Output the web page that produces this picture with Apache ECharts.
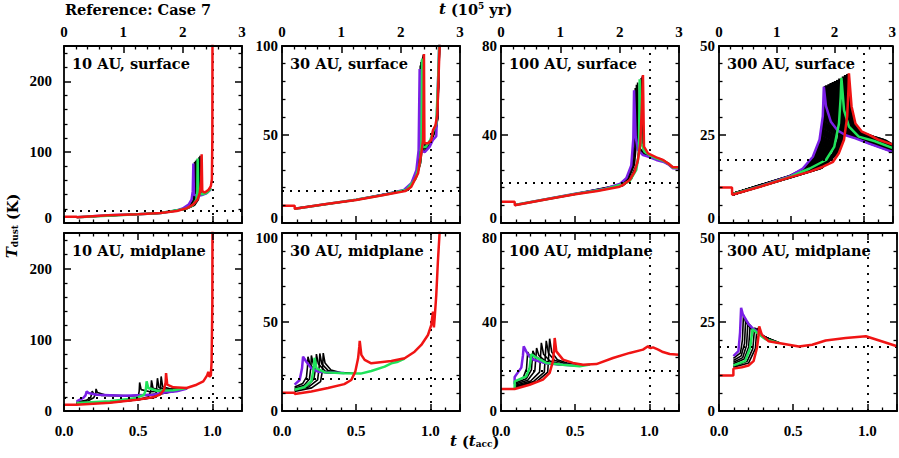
<!DOCTYPE html>
<html>
<head>
<meta charset="utf-8">
<script src="https://cdn.jsdelivr.net/npm/echarts@6/dist/echarts.min.js"></script>
<style>
  body { margin: 0; background: #fff; }
  #main { width: 899px; height: 458px; }
</style>
</head>
<body>
<div id="main"></div>
<script>
// t in units of t_acc (1 t_acc = 2.5e5 yr), T_dust in K

// ---- 10 AU, surface
var surf10Red = [[0,9],[0.085,9],[0.086,8],[0.3,10.8],[0.5,12.3],[0.65,14],[0.76,17],[0.83,21],[0.87,26],[0.9,33],[0.915,42],[0.925,60],[0.928,97],[0.932,45],[0.95,43],[0.975,47],[0.99,52],[0.997,62],[1.0,120],[1.001,260]];
var surf10Purple = [[0.086,8.2],[0.3,10.9],[0.5,12.5],[0.65,14.2],[0.76,17.8],[0.8,20.5],[0.84,26],[0.86,33],[0.868,45],[0.872,84],[0.876,40],[0.9,38],[0.93,39.5],[0.96,42],[0.99,47.5]];
var surf10Green = [[0.086,8.1],[0.5,12.4],[0.65,14.1],[0.815,19.7],[0.868,25],[0.892,33],[0.899,45],[0.901,91],[0.905,42],[0.935,40.5],[0.965,43],[0.99,48.5]];
var surf10Black = [
  [[0.086,8.1],[0.65,14.1],[0.8,19.8],[0.85,25],[0.872,33],[0.878,45],[0.88,86],[0.884,41],[0.91,39],[0.95,41.5],[0.99,48]],
  [[0.086,8.1],[0.65,14.1],[0.8,19.6],[0.855,25],[0.878,33],[0.885,45],[0.887,88],[0.891,41],[0.92,39.5],[0.96,42],[0.99,48]],
  [[0.086,8.1],[0.65,14],[0.81,19.8],[0.86,25],[0.885,33],[0.892,45],[0.894,89.5],[0.898,41.5],[0.93,40],[0.97,43.5],[0.99,48.5]],
  [[0.086,8.1],[0.65,14],[0.82,19.7],[0.875,25],[0.9,33],[0.908,45],[0.91,93],[0.914,42],[0.94,41],[0.97,44],[0.99,49]],
  [[0.086,8.1],[0.65,14],[0.825,19.6],[0.88,25],[0.906,33],[0.915,45],[0.917,95],[0.921,42.5],[0.945,41.5],[0.975,45],[0.99,49.5]]
];

// ---- 30 AU, surface
var surf30Red = [[0,9.8],[0.085,9.8],[0.086,8],[0.3,10.7],[0.5,13],[0.65,15.2],[0.75,16.8],[0.83,18],[0.87,20.3],[0.917,28],[0.939,39.5],[0.951,47],[0.955,70],[0.957,95.5],[0.96,45],[0.984,45],[1.007,47],[1.018,52.5],[1.034,55],[1.047,61],[1.056,84],[1.063,101]];
var surf30Purple = [[0.086,8.1],[0.5,13.2],[0.7,16.3],[0.82,18.6],[0.872,22.5],[0.906,29.9],[0.921,41.2],[0.928,87],[0.935,41],[0.962,40],[0.995,43],[1.018,47],[1.04,49],[1.05,75],[1.06,101]];
var surf30Green = [[0.086,8.1],[0.5,13.1],[0.7,16.1],[0.84,18.8],[0.9,25],[0.93,34],[0.94,45],[0.945,93],[0.948,43],[0.97,43],[1.0,47],[1.02,52],[1.04,56],[1.052,80],[1.06,101]];
var surf30Black = [
  [[0.086,8.1],[0.5,13.1],[0.83,18.6],[0.88,23],[0.912,30],[0.926,41],[0.932,89],[0.938,41.5],[0.965,41],[0.995,44.5],[1.02,49],[1.045,55],[1.055,80],[1.062,101]],
  [[0.086,8.1],[0.5,13.1],[0.835,18.6],[0.885,23.5],[0.917,30.5],[0.931,41],[0.937,91],[0.942,42],[0.968,42],[0.998,45],[1.022,50],[1.046,56],[1.056,82],[1.062,101]],
  [[0.086,8.1],[0.5,13],[0.84,18.7],[0.89,24],[0.921,31],[0.935,41.5],[0.941,92],[0.946,42.5],[0.97,42.5],[1.0,46],[1.025,51],[1.047,57],[1.057,83],[1.062,101]],
  [[0.086,8.1],[0.5,13],[0.845,18.6],[0.9,25],[0.93,33],[0.943,43],[0.949,94],[0.953,43.5],[0.975,44],[1.003,46.5],[1.028,52],[1.048,58],[1.057,84],[1.063,101]],
  [[0.086,8.1],[0.5,13],[0.85,18.5],[0.905,25.5],[0.935,34],[0.947,44],[0.952,95],[0.956,44],[0.98,44.5],[1.005,47],[1.03,53],[1.05,59],[1.058,85],[1.063,101]]
];

// ---- 100 AU, surface
var surf100Red = [[0,9.6],[0.092,9.6],[0.093,8],[0.3,10.6],[0.5,13],[0.65,14.5],[0.8,16.4],[0.822,17.2],[0.867,19.4],[0.901,23.2],[0.923,28.4],[0.939,36],[0.95,52.6],[0.957,66.9],[0.964,34.5],[0.991,31.5],[1.047,29.7],[1.092,28.5],[1.126,27],[1.159,25.2],[1.2,25.2]];
var surf100Purple = [[0.093,8.1],[0.5,13.2],[0.7,15.5],[0.8,17.6],[0.845,20.3],[0.878,26],[0.892,38],[0.897,60],[0.908,39],[0.923,33],[0.957,30.7],[0.991,30],[1.047,28.5],[1.092,27.7],[1.126,26.6],[1.159,24.7],[1.2,24.6]];
var surf100Green = [[0.093,8.1],[0.5,13.1],[0.7,15.3],[0.82,17.5],[0.867,18.9],[0.912,24],[0.93,31.5],[0.935,65],[0.946,36],[0.968,32.2],[1.0,30.7],[1.047,29.2],[1.092,28.2],[1.126,27],[1.159,25],[1.2,25]];
var surf100Black = [
  [[0.093,8.1],[0.5,13.2],[0.8,17.3],[0.85,20.5],[0.885,26],[0.9,38],[0.905,61],[0.913,38.5],[0.93,33],[0.96,31],[1.0,30.2],[1.05,28.8],[1.1,27.7],[1.16,24.9],[1.2,24.8]],
  [[0.093,8.1],[0.5,13.2],[0.8,17.1],[0.855,20.5],[0.893,26.5],[0.908,38],[0.913,62.5],[0.92,38],[0.935,33],[0.965,31],[1.0,30.3],[1.05,28.9],[1.1,27.8],[1.16,24.9],[1.2,24.8]],
  [[0.093,8.1],[0.5,13.1],[0.81,17.2],[0.86,20],[0.9,26.5],[0.915,38],[0.921,63.5],[0.928,37.5],[0.94,33.5],[0.97,31],[1.0,30.4],[1.05,29],[1.1,27.9],[1.16,25],[1.2,24.9]],
  [[0.093,8.1],[0.5,13],[0.82,17],[0.875,20.5],[0.918,27],[0.936,37],[0.945,65.5],[0.952,36],[0.96,33],[0.98,31.5],[1.01,30.5],[1.05,29.3],[1.1,28],[1.16,25.1],[1.2,25]],
  [[0.093,8.1],[0.5,13],[0.82,16.8],[0.88,20],[0.92,27],[0.94,37],[0.951,66.2],[0.958,35],[0.965,33],[0.985,31.5],[1.02,30.2],[1.06,29.3],[1.1,28.2],[1.16,25.1],[1.2,25.1]]
];

// ---- 300 AU, surface
var surf300Red = [[0,10],[0.09,10],[0.091,8],[0.29,10.3],[0.49,12.9],[0.63,14.5],[0.72,15.9],[0.79,17.3],[0.83,19.7],[0.866,23.5],[0.888,30.2],[0.897,38],[0.9,42.3],[0.918,33],[0.945,28.1],[0.99,25.8],[1.04,24.9],[1.1,23.6],[1.2,22.2]];
var surf300Purple = [[0.091,8.1],[0.29,10.5],[0.49,13.2],[0.58,15.4],[0.65,18.7],[0.696,23.5],[0.719,30.2],[0.726,38.5],[0.741,33],[0.775,28.6],[0.82,26.2],[0.877,24.8],[0.945,23.9],[1.035,22.5],[1.2,20.1]];
var surf300Green = [[0.091,8.1],[0.29,10.4],[0.49,13],[0.628,15.4],[0.741,17.8],[0.798,21.5],[0.831,28.1],[0.843,35.7],[0.848,41],[0.866,31.9],[0.9,27.2],[0.968,24.4],[1.08,23.1],[1.2,21.2]];
var surf300Black = [
  [[0.091,8.1],[0.49,13.2],[0.595,15.4],[0.665,18.8],[0.703,23.5],[0.726,30.2],[0.735,38.7],[0.75,33],[0.785,28.6],[0.83,26.3],[0.89,24.9],[0.96,24],[1.04,22.6],[1.2,20.3]],
  [[0.091,8.1],[0.49,13.2],[0.605,15.4],[0.675,18.9],[0.713,23.5],[0.736,30.2],[0.745,38.9],[0.76,33],[0.795,28.6],[0.84,26.3],[0.9,25],[0.97,24.1],[1.05,22.7],[1.2,20.5]],
  [[0.091,8.1],[0.49,13.1],[0.62,15.4],[0.69,19],[0.728,23.5],[0.751,30.2],[0.76,39.2],[0.775,33],[0.81,28.7],[0.855,26.4],[0.91,25.1],[0.98,24.2],[1.06,22.8],[1.2,20.7]],
  [[0.091,8.1],[0.49,13.1],[0.635,15.4],[0.705,19.1],[0.743,23.5],[0.766,30.2],[0.775,39.5],[0.79,33],[0.825,28.7],[0.87,26.4],[0.925,25.2],[0.99,24.3],[1.07,22.9],[1.2,20.9]],
  [[0.091,8.1],[0.49,13.1],[0.65,15.4],[0.72,19.2],[0.758,23.5],[0.781,30.2],[0.79,39.8],[0.805,33],[0.84,28.7],[0.885,26.4],[0.94,25.2],[1.0,24.4],[1.08,23],[1.2,21.1]],
  [[0.091,8.1],[0.49,13],[0.665,15.4],[0.735,19.3],[0.773,23.5],[0.796,30.2],[0.805,40.1],[0.82,33],[0.855,28.6],[0.9,26.3],[0.95,25.3],[1.01,24.4],[1.09,23.1],[1.2,21.3]],
  [[0.091,8.1],[0.49,13],[0.68,15.5],[0.75,19.4],[0.788,23.5],[0.811,30.2],[0.82,40.4],[0.835,33],[0.87,28.5],[0.915,26.2],[0.96,25.3],[1.02,24.5],[1.1,23.2],[1.2,21.5]],
  [[0.091,8.1],[0.49,13],[0.69,15.5],[0.765,19.5],[0.803,23.5],[0.826,30.2],[0.835,40.8],[0.85,33],[0.885,28.4],[0.93,26.1],[0.97,25.4],[1.03,24.5],[1.11,23.3],[1.2,21.7]],
  [[0.091,8.1],[0.49,12.95],[0.7,15.5],[0.79,19.5],[0.828,23.5],[0.851,30.2],[0.86,41.4],[0.875,33],[0.907,28.3],[0.95,26],[0.99,25.4],[1.05,24.5],[1.13,23.4],[1.2,21.9]],
  [[0.091,8.1],[0.49,12.9],[0.71,15.6],[0.805,19.6],[0.843,23.5],[0.866,30.2],[0.875,41.8],[0.89,33],[0.922,28.2],[0.965,25.9],[1.0,25.3],[1.06,24.4],[1.14,23.4],[1.2,22]],
  [[0.091,8.1],[0.49,12.9],[0.715,15.8],[0.815,19.6],[0.856,23.5],[0.879,30.2],[0.89,42.1],[0.905,33],[0.935,28.1],[0.975,25.9],[1.01,25.1],[1.07,24.3],[1.15,23.3],[1.2,22.1]]
];

// ---- 10 AU, midplane
var mid10Red = [[0,8.9],[0.085,8.9],[0.31,11.7],[0.49,15.9],[0.6,19.2],[0.647,22.9],[0.674,29.9],[0.685,40],[0.688,53.3],[0.696,36.9],[0.737,33.2],[0.827,32.3],[0.894,36.9],[0.939,41.6],[0.965,50],[0.973,55],[0.98,48],[0.99,50],[0.995,69.6],[1.0,150],[1.001,260]];
var mid10Purple = [[0.085,13.6],[0.13,18.3],[0.145,22],[0.153,27.6],[0.165,25.3],[0.22,22.9],[0.4,21.5],[0.6,22.9],[0.69,26.2],[0.76,27.6],[0.83,31.5]];
var mid10Green = [[0.085,11.2],[0.31,13.6],[0.49,18.3],[0.54,22.9],[0.552,30],[0.557,41.6],[0.568,32.3],[0.625,28.5],[0.737,29],[0.827,32.3]];
var mid10Black = [
  [[0.085,12.5],[0.15,15],[0.18,19],[0.19,28],[0.2,24],[0.25,22],[0.4,21],[0.6,22.5],[0.8,30]],
  [[0.085,11.8],[0.16,14],[0.2,18.5],[0.213,24],[0.216,31],[0.225,26],[0.28,22.5],[0.45,21.5],[0.65,24],[0.8,30]],
  [[0.085,10.5],[0.3,12.5],[0.45,15.5],[0.5,20],[0.507,28],[0.51,40],[0.52,30],[0.58,27],[0.7,28],[0.83,32]],
  [[0.085,10],[0.3,12],[0.5,16],[0.57,20],[0.585,28],[0.59,43],[0.6,32],[0.65,29],[0.75,29.5],[0.83,32]],
  [[0.085,9.7],[0.3,11.9],[0.5,16],[0.6,19],[0.622,26],[0.63,46],[0.64,33],[0.7,30],[0.83,32]],
  [[0.085,9.4],[0.3,11.8],[0.5,16],[0.62,19.5],[0.648,26],[0.655,48.5],[0.665,34],[0.72,31],[0.83,32.3]]
];

// ---- 30 AU, midplane
var mid30Red = [[0,10.3],[0.085,10.3],[0.086,9.6],[0.198,11],[0.31,12.9],[0.42,15.1],[0.467,17.4],[0.494,22.1],[0.513,29.6],[0.521,36],[0.524,39.4],[0.535,31.5],[0.557,28.7],[0.602,26.8],[0.692,27.7],[0.737,28.1],[0.827,29.6],[0.894,33.3],[0.939,37.1],[0.984,42.7],[1.006,48.3],[1.012,52],[1.018,55.8],[1.024,47],[1.029,52],[1.04,65.1],[1.051,84],[1.063,101]];
var mid30Purple = [[0.085,14.8],[0.119,17.4],[0.135,24],[0.142,30.5],[0.164,27.7],[0.198,24],[0.243,22.1],[0.3,21.7],[0.42,21.3]];
var mid30Green = [[0.085,11.9],[0.15,13.3],[0.198,16.7],[0.21,22],[0.22,29.9],[0.232,24],[0.289,21.7],[0.42,21.2],[0.53,21],[0.602,22.5],[0.692,24.9],[0.737,26.8],[0.782,27.7],[0.827,29.4]];
var mid30Black = [
  [[0.085,13.5],[0.14,15.5],[0.165,19],[0.172,25],[0.175,30.5],[0.19,26],[0.23,22.5],[0.3,21.5],[0.4,21.3]],
  [[0.085,12.8],[0.15,14.5],[0.185,18],[0.195,25],[0.198,31.2],[0.212,26],[0.25,22.5],[0.32,21.4],[0.42,21.2]],
  [[0.085,12],[0.17,14],[0.215,18],[0.228,25],[0.232,32],[0.245,26.5],[0.29,22.5],[0.36,21.4],[0.44,21.2]],
  [[0.085,11.5],[0.18,13.5],[0.24,17.5],[0.25,24],[0.255,32.3],[0.268,26.5],[0.31,22.8],[0.38,21.5],[0.46,21.2]],
  [[0.085,11],[0.2,13],[0.26,16.5],[0.273,23],[0.278,32.5],[0.29,27],[0.33,23],[0.4,21.5],[0.48,21.2]]
];

// ---- 100 AU, midplane
var mid100Red = [[0,9.9],[0.092,9.9],[0.193,11.8],[0.283,14.1],[0.328,17.1],[0.35,22.3],[0.358,28],[0.362,32.8],[0.373,26.8],[0.418,23.1],[0.485,21.6],[0.553,20.8],[0.643,21.1],[0.755,23.8],[0.868,26.1],[0.957,27.6],[0.991,29.1],[1.0,28.5],[1.01,28.3],[1.025,28.6],[1.06,27.6],[1.092,26.5],[1.137,25.6],[1.2,25.3]];
var mid100Purple = [[0.092,12],[0.092,15.3],[0.137,19.5],[0.148,25],[0.153,29.1],[0.17,26.8],[0.193,24.4],[0.22,23],[0.3,21.5],[0.418,20.8],[0.5,20.5]];
var mid100Green = [[0.092,9.9],[0.092,13.3],[0.17,15.6],[0.193,19.5],[0.204,25.5],[0.238,24],[0.305,21.6],[0.418,20.8],[0.53,20.1],[0.6,20.9]];
var mid100Black = [
  [[0.092,13],[0.15,15],[0.172,19],[0.18,26.5],[0.195,24.5],[0.24,22.5],[0.32,21.3],[0.42,20.8]],
  [[0.092,12.5],[0.17,14.5],[0.205,18.5],[0.215,27.1],[0.23,24.8],[0.28,22.3],[0.36,21],[0.45,20.6]],
  [[0.092,12],[0.18,13.8],[0.228,18],[0.24,28.3],[0.255,25],[0.3,22.3],[0.38,21],[0.47,20.6]],
  [[0.092,11.5],[0.2,13.5],[0.26,17.5],[0.272,30.6],[0.287,25.5],[0.33,22.5],[0.4,21.2],[0.5,20.6]],
  [[0.092,11],[0.22,13.3],[0.292,17.5],[0.305,31.5],[0.32,26],[0.36,22.8],[0.43,21.3],[0.52,20.7]],
  [[0.092,10.5],[0.24,13.2],[0.315,17.5],[0.328,32.5],[0.342,26.5],[0.38,23],[0.45,21.5],[0.55,20.8]]
];

// ---- 300 AU, midplane
var mid300Red = [[0,10],[0.097,10],[0.097,11.9],[0.154,12.3],[0.199,12.8],[0.233,14],[0.256,17.7],[0.266,21],[0.271,23.8],[0.289,21.4],[0.335,19.6],[0.402,19.1],[0.538,18.1],[0.628,18.6],[0.719,19.8],[0.854,20.5],[0.99,21],[1.08,19.8],[1.2,18.2]];
var mid300Purple = [[0.097,15.4],[0.131,16.8],[0.142,22],[0.149,29],[0.16,27.2],[0.199,24.4],[0.233,23],[0.27,22],[0.3,21]];
var mid300Green = [[0.097,12.8],[0.176,14],[0.21,17.7],[0.226,23],[0.256,22],[0.312,20.2],[0.402,19.1]];
var mid300Black = [
  [[0.097,14.8],[0.145,16.3],[0.158,20],[0.165,27],[0.18,25],[0.22,23],[0.28,21.5],[0.35,20]],
  [[0.097,14.2],[0.15,15.5],[0.172,19],[0.18,25.8],[0.195,24.2],[0.23,22.6],[0.29,21.2],[0.36,19.8]],
  [[0.097,13.7],[0.16,15],[0.186,18.5],[0.195,25],[0.21,23.6],[0.245,22.2],[0.3,21],[0.37,19.7]],
  [[0.097,13.3],[0.17,14.6],[0.2,18],[0.21,24.2],[0.225,23],[0.26,21.8],[0.31,20.8],[0.38,19.6]],
  [[0.097,12.6],[0.19,14],[0.228,17.5],[0.24,23.4],[0.255,22.4],[0.29,21],[0.34,20.2],[0.4,19.3]],
  [[0.097,12.3],[0.2,13.5],[0.245,17.5],[0.256,23.3],[0.27,22.3],[0.3,21],[0.35,20],[0.41,19.2]]
];

// axis settings per column
var yMax = [250, 100, 80, 50];
var yStep = [100, 50, 40, 25];
var refTemp = 18;     // horizontal dotted line (K)
var refTime = 1.0;    // vertical dotted line (t_acc)

var panels = [
  { title: '10 AU, surface',   black: surf10Black,  purple: surf10Purple,  green: surf10Green,  red: surf10Red },
  { title: '30 AU, surface',   black: surf30Black,  purple: surf30Purple,  green: surf30Green,  red: surf30Red },
  { title: '100 AU, surface',  black: surf100Black, purple: surf100Purple, green: surf100Green, red: surf100Red },
  { title: '300 AU, surface',  black: surf300Black, purple: surf300Purple, green: surf300Green, red: surf300Red },
  { title: '10 AU, midplane',  black: mid10Black,   purple: mid10Purple,   green: mid10Green,   red: mid10Red },
  { title: '30 AU, midplane',  black: mid30Black,   purple: mid30Purple,   green: mid30Green,   red: mid30Red },
  { title: '100 AU, midplane', black: mid100Black,  purple: mid100Purple,  green: mid100Green,  red: mid100Red },
  { title: '300 AU, midplane', black: mid300Black,  purple: mid300Purple,  green: mid300Green,  red: mid300Red }
];

var colLeft = [64, 282, 501, 719];
var rowTop = [46, 233];
var rowHeight = [177, 178];
var panelWidth = 178;

var tickFont = { fontFamily: '"Liberation Serif", serif', fontWeight: 'bold', fontSize: 15, color: '#000' };
var titleFont = 'bold 14.5px "DejaVu Serif", serif';

// labels at the row seam are nudged apart (0 up in the top row, max down in the bottom row)
var seamRich = {
  lo: { fontFamily: '"Liberation Serif", serif', fontWeight: 'bold', fontSize: 15, color: '#000', padding: [0, 0, 10, 0] },
  hi: { fontFamily: '"Liberation Serif", serif', fontWeight: 'bold', fontSize: 15, color: '#000', padding: [10, 0, 0, 0] }
};

function boxAxis(extra) {
  var a = {
    type: 'value',
    z: 10,
    splitLine: { show: false },
    axisLine: { show: true, onZero: false, lineStyle: { color: '#000', width: 1.8 } },
    axisTick: { show: true, inside: true, length: 7, lineStyle: { color: '#000', width: 1.5 } },
    minorTick: { show: true, splitNumber: 5, length: 3.5, lineStyle: { color: '#000', width: 1.3 } },
    axisLabel: { show: false }
  };
  for (var k in extra) a[k] = extra[k];
  return a;
}

var grids = [], xAxes = [], yAxes = [], series = [], graphics = [];

panels.forEach(function (p, i) {
  var row = Math.floor(i / 4), col = i % 4;
  grids.push({ left: colLeft[col], top: rowTop[row], width: panelWidth, height: rowHeight[row] });

  // bottom x axis (t in t_acc)
  xAxes.push(boxAxis({
    gridIndex: i, position: 'bottom', min: 0, max: 1.2, interval: 0.5,
    axisLabel: row === 1 ? Object.assign({ show: true, margin: 12, showMaxLabel: false,
      formatter: function (v) { return v.toFixed(1); } }, tickFont) : { show: false }
  }));
  // top x axis (t in 1e5 yr on the upper row)
  if (row === 0) {
    xAxes.push(boxAxis({
      gridIndex: i, position: 'top', min: 0, max: 3, interval: 1,
      axisLabel: Object.assign({ show: true, margin: 7 }, tickFont)
    }));
  } else {
    xAxes.push(boxAxis({ gridIndex: i, position: 'top', min: 0, max: 1.2, interval: 0.5 }));
  }
  // left / right y axes
  yAxes.push(boxAxis({
    gridIndex: i, position: 'left', min: 0, max: yMax[col], interval: yStep[col],
    axisLabel: Object.assign({
      show: true, margin: col === 0 ? 12 : 4, showMaxLabel: col !== 0, rich: seamRich,
      formatter: function (v) {
        if (row === 0 && v === 0) return '{lo|0}';
        if (row === 1 && v === yMax[col]) return '{hi|' + v + '}';
        return String(v);
      }
    }, tickFont)
  }));
  yAxes.push(boxAxis({ gridIndex: i, position: 'right', min: 0, max: yMax[col], interval: yStep[col] }));

  var xi = 2 * i, yi = 2 * i;
  function line(data, color, width, z) {
    return {
      type: 'line', xAxisIndex: xi, yAxisIndex: yi, data: data,
      symbol: 'none', showSymbol: false, silent: true, animation: false, z: z,
      lineStyle: { color: color, width: width }
    };
  }
  var bw = col === 3 && row === 0 ? 2.8 : 1.6;
  p.black.forEach(function (d, k) {
    var s = line(d, '#000', bw, 2);
    if (k === 0) {
      s.markLine = {
        silent: true, symbol: ['none', 'none'], animation: false,
        label: { show: false },
        lineStyle: { color: '#000', width: 1.9, type: [2, 6] },
        data: [{ xAxis: refTime }, { yAxis: refTemp }]
      };
    }
    series.push(s);
  });
  series.push(line(p.purple, '#7a1fe6', 2.5, 3));
  series.push(line(p.green, '#1fe35a', 2.5, 4));
  series.push(line(p.red, '#f01414', 2.5, 5));

  graphics.push({
    type: 'text', x: colLeft[col] + 8, y: rowTop[row] + 17, z: 10,
    style: { text: p.title, font: titleFont, fill: '#000', textVerticalAlign: 'middle', verticalAlign: 'middle' }
  });
});

graphics.push({
  type: 'text', x: 65, y: 9,
  style: { text: 'Reference: Case 7', font: titleFont, fill: '#000', textVerticalAlign: 'middle', verticalAlign: 'middle' }
});
graphics.push({
  type: 'text', x: 439, y: 9,
  style: {
    text: '{i|t} {n|(10}{s|5}{n| yr)}', font: titleFont, fill: '#000', textVerticalAlign: 'middle', verticalAlign: 'middle',
    rich: {
      i: { font: 'italic bold 15px "DejaVu Serif", serif', fill: '#000' },
      n: { font: titleFont, fill: '#000' },
      s: { font: 'bold 9px "DejaVu Serif", serif', fill: '#000', verticalAlign: 'top' }
    }
  }
});
graphics.push({
  type: 'text', x: 450, y: 441,
  style: {
    text: '{i|t} {n|(}{i|t}{b|acc}{n|)}', font: titleFont, fill: '#000', textVerticalAlign: 'middle', verticalAlign: 'middle',
    rich: {
      i: { font: 'italic bold 15px "DejaVu Serif", serif', fill: '#000' },
      n: { font: titleFont, fill: '#000' },
      b: { font: 'bold 9px "DejaVu Serif", serif', fill: '#000', verticalAlign: 'bottom' }
    }
  }
});
graphics.push({
  type: 'text', x: 12, y: 226, rotation: Math.PI / 2,
  style: {
    text: '{i|T}{b|dust} {n|(K)}', font: titleFont, fill: '#000',
    textAlign: 'center', align: 'center', textVerticalAlign: 'middle', verticalAlign: 'middle',
    rich: {
      i: { font: 'italic bold 15px "DejaVu Serif", serif', fill: '#000' },
      n: { font: titleFont, fill: '#000' },
      b: { font: 'bold 9px "DejaVu Serif", serif', fill: '#000', verticalAlign: 'bottom' }
    }
  }
});

var myChart = echarts.init(document.getElementById('main'), null, { renderer: 'svg' });
myChart.setOption({
  backgroundColor: '#fff',
  animation: false,
  grid: grids,
  xAxis: xAxes,
  yAxis: yAxes,
  series: series,
  graphic: graphics
});
</script>
</body>
</html>
